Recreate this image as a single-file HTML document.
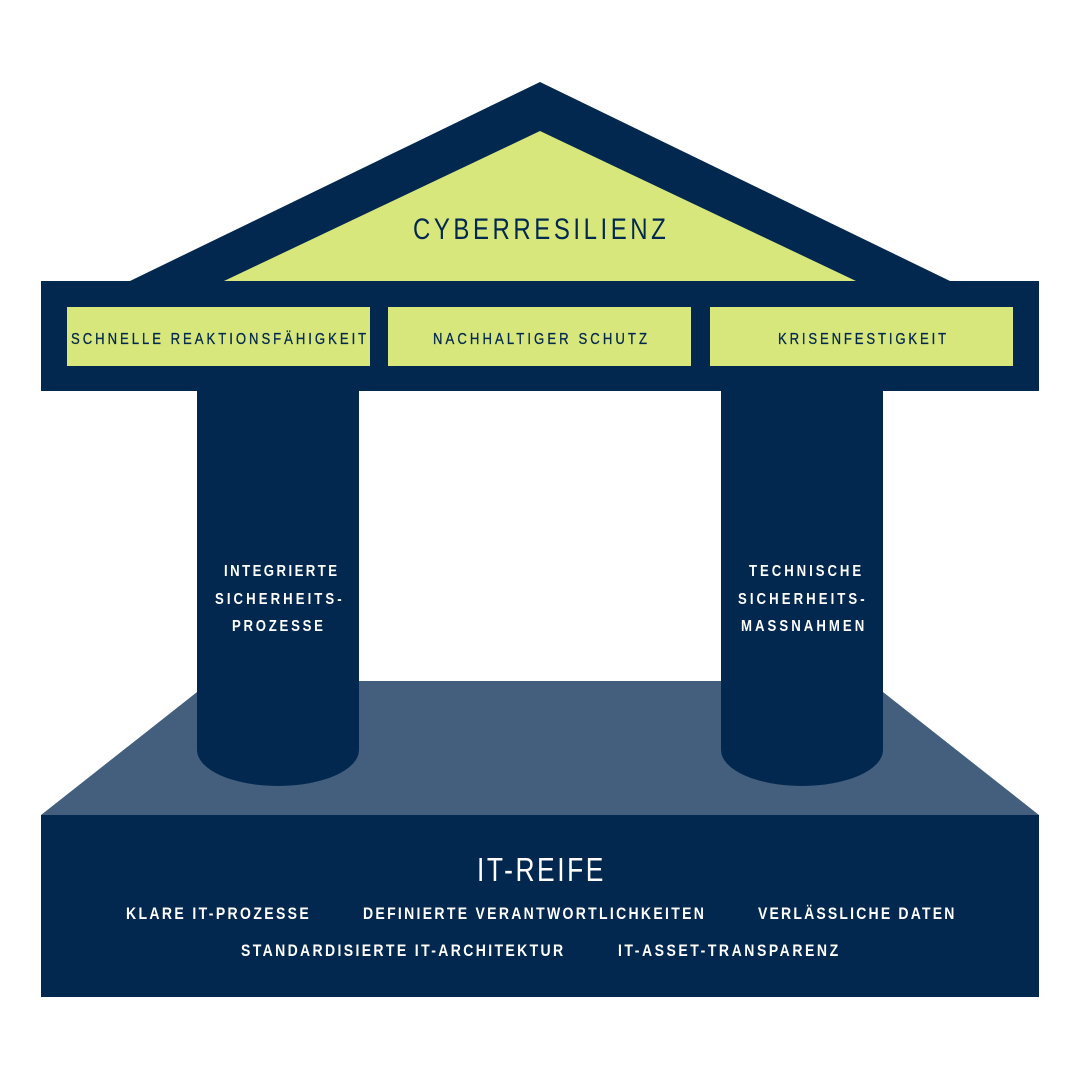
<!DOCTYPE html>
<html>
<head>
<meta charset="utf-8">
<style>
html,body{margin:0;padding:0;background:#fff;}
svg{display:block;}
text{font-family:"Liberation Sans","DejaVu Sans",sans-serif;}
</style>
</head>
<body>
<svg width="1080" height="1080" viewBox="0 0 1080 1080" xmlns="http://www.w3.org/2000/svg">
  <rect x="0" y="0" width="1080" height="1080" fill="#ffffff"/>
  <!-- platform -->
  <polygon points="41,815 211,681 869,681 1039,815" fill="#435f7d"/>
  <!-- base -->
  <rect x="41" y="815" width="998" height="182" fill="#03284f"/>
  <!-- columns -->
  <path d="M197,385 L359,385 L359,750 A81,36 0 0 1 197,750 Z" fill="#03284f"/>
  <path d="M721,385 L883,385 L883,750 A81,36 0 0 1 721,750 Z" fill="#03284f"/>
  <!-- roof -->
  <polygon points="540,82 950,281 130,281" fill="#03284f"/>
  <polygon points="540,131 856,281 224,281" fill="#d7e77b"/>
  <!-- beam -->
  <rect x="41" y="281" width="998" height="110" fill="#03284f"/>
  <rect x="67" y="307" width="303" height="59" fill="#d7e77b"/>
  <rect x="388" y="307" width="303" height="59" fill="#d7e77b"/>
  <rect x="710" y="307" width="303" height="59" fill="#d7e77b"/>

  <!-- roof text -->
  <text transform="translate(413,239) scale(0.8,1)" x="0" y="0" font-size="30" fill="#03284f" textLength="316" lengthAdjust="spacing">CYBERRESILIENZ</text>

  <!-- beam labels -->
  <g fill="#03284f" stroke="#03284f" stroke-width="0.3" font-size="16">
    <text transform="translate(71,344) scale(0.82,1)" x="0" y="0" textLength="360" lengthAdjust="spacing">SCHNELLE REAKTIONSFÄHIGKEIT</text>
    <text transform="translate(433,344) scale(0.82,1)" x="0" y="0" textLength="261" lengthAdjust="spacing">NACHHALTIGER SCHUTZ</text>
    <text transform="translate(778,344) scale(0.82,1)" x="0" y="0" textLength="205" lengthAdjust="spacing">KRISENFESTIGKEIT</text>
  </g>

  <!-- column labels -->
  <g fill="#ffffff" font-size="15.5" font-weight="bold">
    <text transform="translate(224,576) scale(0.85,1)" x="0" y="0" textLength="133" lengthAdjust="spacing">INTEGRIERTE</text>
    <text transform="translate(215,604) scale(0.85,1)" x="0" y="0" textLength="149" lengthAdjust="spacing">SICHERHEITS-</text>
    <text transform="translate(232,631) scale(0.85,1)" x="0" y="0" textLength="107" lengthAdjust="spacing">PROZESSE</text>
    <text transform="translate(749,576) scale(0.85,1)" x="0" y="0" textLength="132" lengthAdjust="spacing">TECHNISCHE</text>
    <text transform="translate(738,604) scale(0.85,1)" x="0" y="0" textLength="149" lengthAdjust="spacing">SICHERHEITS-</text>
    <text transform="translate(741,631) scale(0.85,1)" x="0" y="0" textLength="145" lengthAdjust="spacing">MASSNAHMEN</text>
  </g>

  <!-- base text -->
  <text transform="translate(477,881) scale(0.8,1)" x="0" y="0" font-size="33" fill="#ffffff" textLength="158" lengthAdjust="spacing">IT-REIFE</text>
  <g fill="#ffffff" font-size="16.5" font-weight="bold">
    <text transform="translate(126,919) scale(0.85,1)" x="0" y="0" textLength="215" lengthAdjust="spacing">KLARE IT-PROZESSE</text>
    <text transform="translate(363,919) scale(0.85,1)" x="0" y="0" textLength="401" lengthAdjust="spacing">DEFINIERTE VERANTWORTLICHKEITEN</text>
    <text transform="translate(758,919) scale(0.85,1)" x="0" y="0" textLength="231" lengthAdjust="spacing">VERLÄSSLICHE DATEN</text>
    <text transform="translate(241,956) scale(0.85,1)" x="0" y="0" textLength="379" lengthAdjust="spacing">STANDARDISIERTE IT-ARCHITEKTUR</text>
    <text transform="translate(618,956) scale(0.85,1)" x="0" y="0" textLength="259" lengthAdjust="spacing">IT-ASSET-TRANSPARENZ</text>
  </g>
</svg>
</body>
</html>
